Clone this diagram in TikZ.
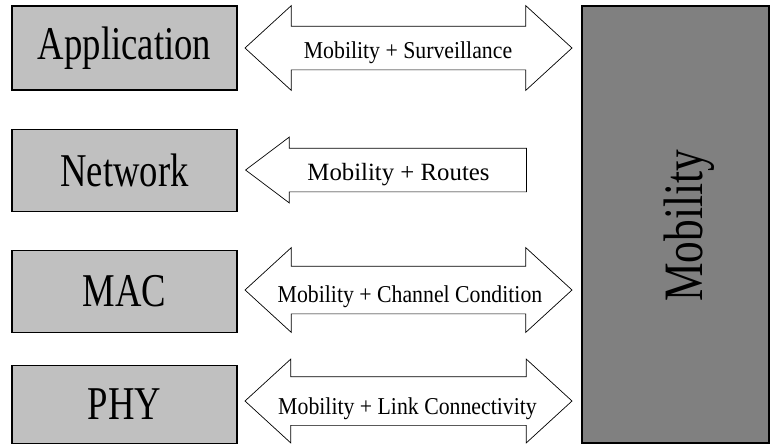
\documentclass[tikz,border=0pt]{standalone}
\usepackage{fontspec}
\setmainfont{Liberation Serif}
\newfontfamily\layerfont[FakeStretch=0.78]{Liberation Serif}
\newfontfamily\flowfont[FakeStretch=0.9]{Liberation Serif}
\usetikzlibrary{shapes.arrows,positioning}
\definecolor{layergray}{RGB}{192,192,192}
\definecolor{mobgray}{RGB}{128,128,128}
\newcommand{\flowtext}[1]{{\flowfont\fontsize{24.2}{24.2}\selectfont #1}}

\begin{document}
\begin{tikzpicture}[x=1pt, y=-1pt,
    layer/.style={rectangle, draw=black, line width=1.2pt, fill=layergray, minimum width=225pt, inner sep=0pt, font=\layerfont\fontsize{47}{47}\selectfont},
    bothway/.style={double arrow, draw=black, line width=0.7pt, fill=white, inner xsep=0pt, minimum height=327pt, double arrow tip angle=85},
    oneway/.style={single arrow, draw=black, line width=0.7pt, fill=white, inner xsep=0pt, inner ysep=21.5pt, minimum height=281pt, single arrow head extend=11pt, single arrow tip angle=74, shape border rotate=180},
    flowlabel/.style={anchor=base, inner sep=0pt}
]
\useasboundingbox (0,0) rectangle (770,445);

% Layers
\node[layer, minimum height=84pt] (app) at (124.5,48) {Application};
\node[layer, minimum height=82pt, below=38pt of app] (net) {Network};
\node[layer, minimum height=82pt, below=38pt of net] (mac) {MAC};
\node[layer, minimum height=78pt, below=32pt of mac] (phy) {PHY};

% Mobility block
\node[rectangle, draw=black, line width=1.2pt, fill=mobgray, minimum width=187pt, minimum height=437pt] (mob) at (675.5,224.5) {};
\node[font=\layerfont\fontsize{55.6}{55.6}\selectfont] (mobtext) at (689,226) {\rotatebox{90}{Mobility}};

% Cross-layer arrows
\node[bothway, inner ysep=21.5pt, double arrow head extend=20.5pt] (appflow) at (408.5,48) {};
\node[oneway, anchor=tip] (netflow) at (245,170) {};
\node[bothway, inner ysep=23.5pt, double arrow head extend=18.5pt] (macflow) at (408.5,290) {};
\node[bothway, inner ysep=24pt, double arrow head extend=17.5pt] (phyflow) at (408.5,401) {};

% Arrow labels
\node[flowlabel] (applabel) at (408,58) {\flowtext{Mobility + Surveillance}};
\node[flowlabel, font=\fontsize{24.8}{24.8}\selectfont] (netlabel) at (398.5,180) {Mobility + Routes};
\node[flowlabel] (maclabel) at (410,302) {\flowtext{Mobility + Channel Condition}};
\node[flowlabel] (phylabel) at (407.5,414) {\flowtext{Mobility + Link Connectivity}};

\end{tikzpicture}
\end{document}
